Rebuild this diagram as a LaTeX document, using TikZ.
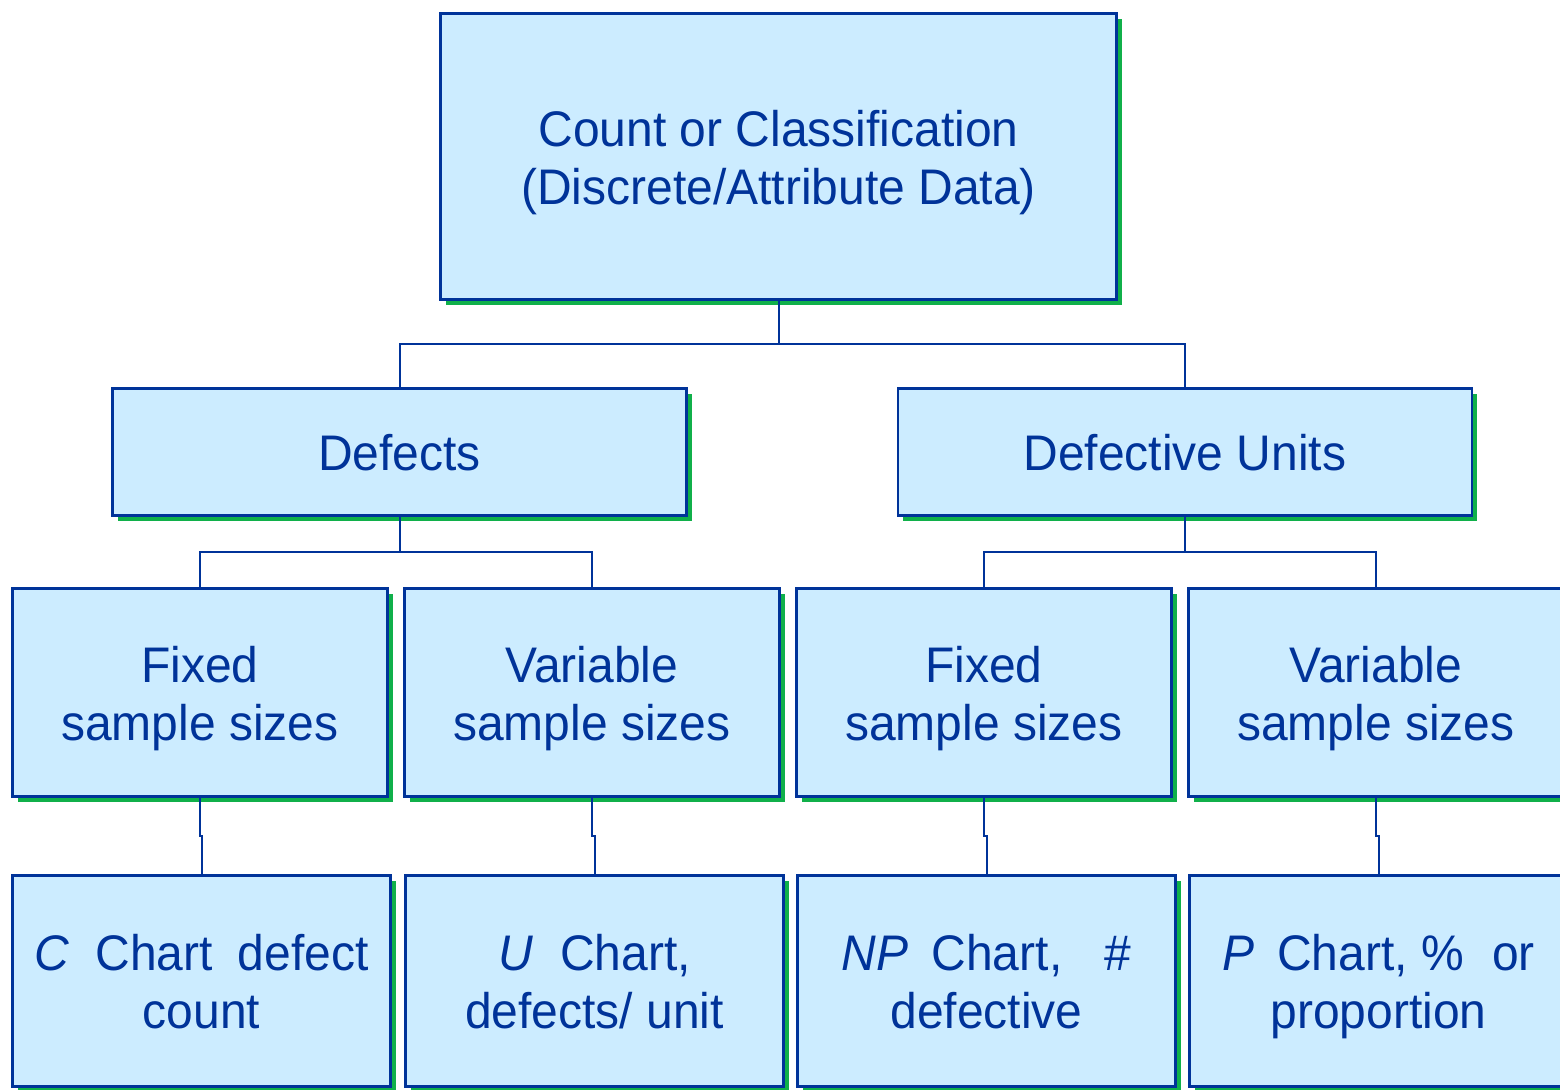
\documentclass[tikz,border=0pt]{standalone}
\usepackage{fontspec}
\setmainfont{Liberation Sans}[FakeStretch=0.96]
\usepackage{tikz}
\usetikzlibrary{calc,shadows}
\definecolor{qcInk}{HTML}{003399}
\definecolor{qcFill}{HTML}{CCECFF}
\definecolor{qcShadow}{HTML}{10B04A}
\tikzset{
  qc diagram/.style={font=\fontsize{25}{29}\selectfont, text=qcInk,
    line join=miter},
  qc box/.style={draw=qcInk, fill=qcFill, line width=1.2pt,
    align=flush center, inner xsep=0pt, inner ysep=0pt,
    execute at begin node={\rule{0pt}{24.5pt}},
    execute at end node={\rule[-6pt]{0pt}{0pt}},
    drop shadow={shadow xshift=2.6pt, shadow yshift=-2.6pt,
      fill=qcShadow, opacity=1}},
  qc top/.style={qc box, text width=338pt, minimum height=143pt},
  qc group/.style={qc box, text width=287pt, minimum height=63.5pt},
  qc size/.style={qc box, text width=187.5pt, minimum height=104pt},
  qc chart/.style={qc box, text width=189pt, minimum height=105.5pt},
  qc link/.style={draw=qcInk, line width=1pt}
}

\begin{document}
\begin{tikzpicture}[qc diagram,x=0.5pt,y=-0.5pt]
\useasboundingbox (0,0) rectangle (1560,1089);
% data type
\node[qc top] (count) at (778.5,156.5)
  {Count or Classification\\(Discrete/Attribute Data)};
% what is counted
\node[qc group] (defects) at (399.5,452) {Defects};
\node[qc group] (units) at (1185,452) {Defective Units};
% sample sizes
\node[qc size] (dfixed) at (200,692.5) {Fixed\\sample sizes};
\node[qc size] (dvar) at (592,692.5) {Variable\\sample sizes};
\node[qc size] (ufixed) at (984,692.5) {Fixed\\sample sizes};
\node[qc size] (uvar) at (1376,692.5) {Variable\\sample sizes};
% charts
\node[qc chart] (cchart) at (201.5,981)
  {\textit{C}\hspace{.52em}Chart\hspace{.5em}defect\\count};
\node[qc chart] (uchart) at (594.5,981)
  {\textit{U}\hspace{.54em}Chart,\\defects/ unit};
\node[qc chart] (npchart) at (986.5,981)
  {\textit{NP}\hspace{.46em}Chart,\hspace{.84em}\#\\defective};
\node[qc chart] (pchart) at (1378.5,981)
  {\textit{P}\hspace{.46em}Chart, \%\hspace{.56em}or\\proportion};
% links
\foreach \a/\b in {count/defects,count/units,defects/dfixed,defects/dvar,
  units/ufixed,units/uvar,dfixed/cchart,dvar/uchart,ufixed/npchart,uvar/pchart}
  \draw[qc link] (\a.south) |- ($(\a.south)!0.5!(\b.north)$) -| (\b.north);
\end{tikzpicture}
\end{document}
